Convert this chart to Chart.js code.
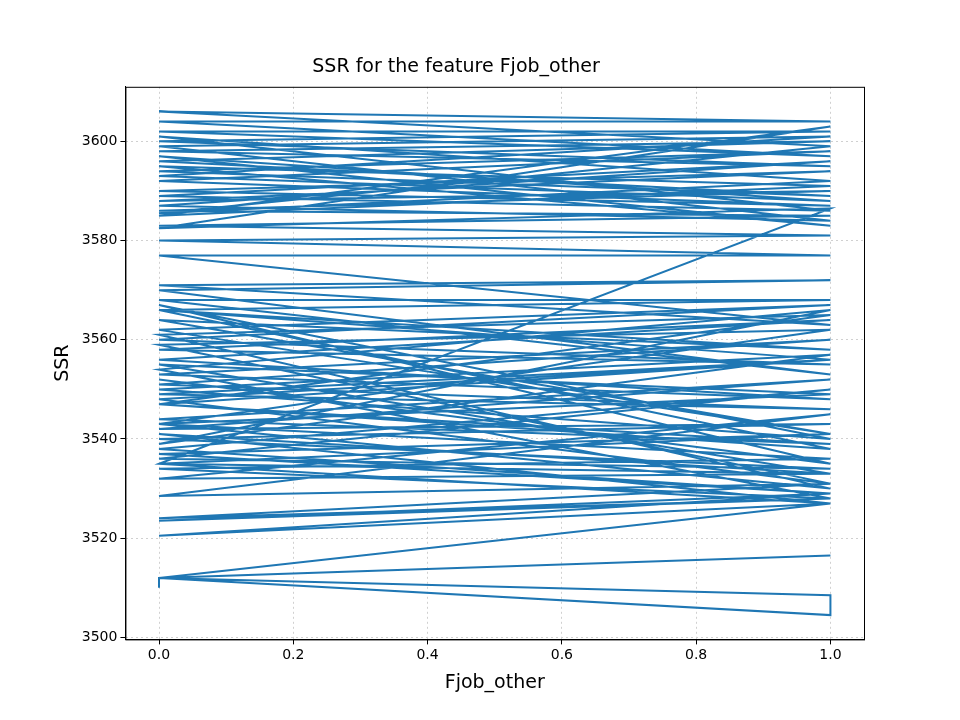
<!DOCTYPE html>
<html><head><meta charset="utf-8">
<script src="https://cdn.jsdelivr.net/npm/chart.js@4/dist/chart.umd.min.js"></script>
<style>body{margin:0;background:#fff}</style></head>
<body><canvas id="c" width="960" height="720"></canvas>
<script>
const xTicks=[0,0.2,0.4,0.6,0.8,1.0];
const yTicks=[3500,3520,3540,3560,3580,3600];
const xs=[0,0,1,0,1,1,0,1,0,1,0,1,0,1,0,1,0,1,0,1,0,1,0,1,0,1,0,1,0,1,0,1,0,1,0,1,0,1,0,1,0,1,0,1,0,1,0,1,0,1,0,1,0,1,0,1,0,1,0,1,0,1,0,1,0,1,0,1,0,1,0,1,0,1,0,1,0,1,0,1,0,1,0,1,0,1,0,1,0,1,0,1,0,1,0,1,0,1,0,1,0,1,0,1,0,1,0,1,0,1,0,1,0,1,0,1,0,1,0,1,0,1,0,1,0,1,0,1,0,1,0,1,0,1,0,1,0];
const ys=[3510,3512,3516.5,3512,3508.5,3504.5,3512,3527,3520.5,3529,3523.5,3528,3524,3531,3528.5,3545,3532,3533,3535,3541,3537,3529,3538,3550,3536,3534,3540,3543,3542,3552,3544,3539,3547,3556,3549,3546,3551,3560,3553,3548,3556,3564,3558,3555,3560,3567,3562,3541,3564,3558,3566,3568,3568,3553,3570,3572,3571,3563,3577,3577,3580,3581,3583,3585,3586,3590,3588,3594,3590,3587,3592,3598,3594,3589,3596,3600,3598,3595,3600,3602,3602,3597,3604,3604,3606,3599,3585.5,3592,3601,3586,3589,3596,3587,3584,3599,3601,3593,3588,3597,3583,3595,3591,3585,3603,3582.5,3586.5,3535,3527,3541,3533,3555,3549,3543,3530,3561,3565,3547,3538,3566,3556,3548,3531,3559,3562,3543,3536,3534,3528,3554,3566,3539,3557,3550,3540,3567,3535,3552];
const pts=xs.map((x,i)=>({x:x,y:ys[i]}));
const frame={id:'frame',afterDraw(c){const a=c.chartArea,g=c.ctx;g.save();g.strokeStyle='#000';g.lineWidth=1;g.strokeRect(a.left+0.5,a.top+0.5,a.right-a.left,a.bottom-a.top);g.restore();}};
const grid={color:'#d0d0d0',lineWidth:1,tickColor:'#000',tickLength:5};
new Chart(document.getElementById('c'),{type:'scatter',
data:{datasets:[{data:pts,showLine:true,pointRadius:0,borderColor:'#1f77b4',borderWidth:2,tension:0}]},
options:{responsive:false,animation:false,
layout:{padding:{left:48,right:96,top:10,bottom:22}},
plugins:{legend:{display:false},title:{display:true,text:'SSR for the feature Fjob_other',color:'#000',font:{family:'DejaVu Sans',size:19,weight:'normal'},padding:{top:46,bottom:8}}},
scales:{
x:{type:'linear',min:-0.05,max:1.05,afterBuildTicks:s=>{s.ticks=xTicks.map(v=>({value:v}));},
ticks:{color:'#000',font:{family:'DejaVu Sans',size:14},callback:v=>v.toFixed(1),maxRotation:0},
grid:grid,border:{color:'#000',dash:[2,3]},
title:{display:true,text:'Fjob_other',color:'#000',font:{family:'DejaVu Sans',size:19}}},
y:{type:'linear',min:3499.6,max:3611,afterBuildTicks:s=>{s.ticks=yTicks.map(v=>({value:v}));},
ticks:{color:'#000',font:{family:'DejaVu Sans',size:14},callback:v=>String(v)},
grid:grid,border:{color:'#000',dash:[2,3]},
title:{display:true,text:'SSR',color:'#000',font:{family:'DejaVu Sans',size:19}}}}},
plugins:[frame]});
</script></body></html>
